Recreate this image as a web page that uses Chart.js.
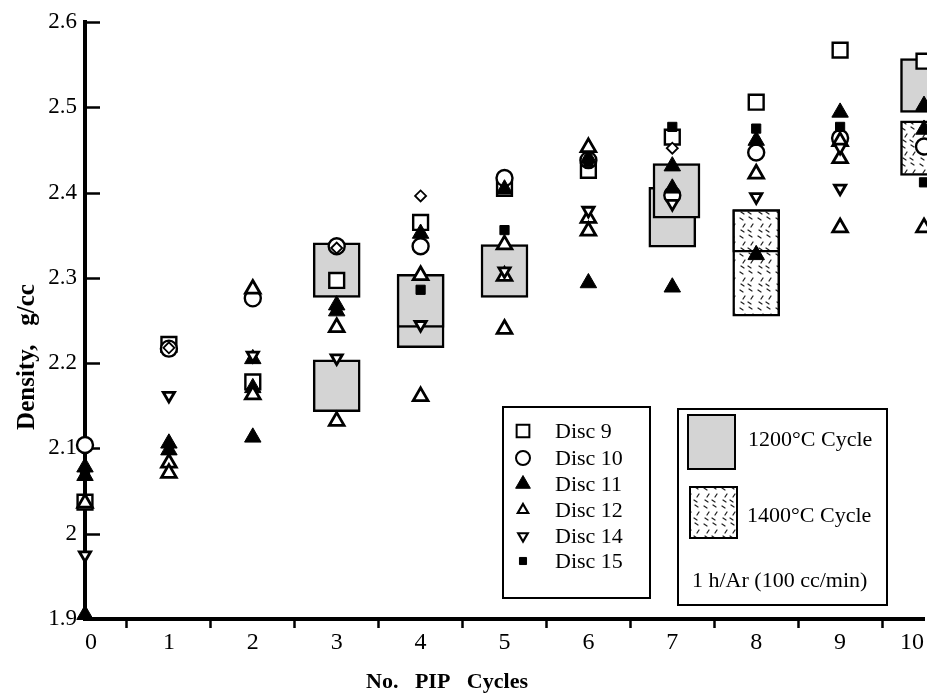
<!DOCTYPE html>
<html>
<head>
<meta charset="utf-8">
<script src="https://cdn.jsdelivr.net/npm/chart.js@4.4.0/dist/chart.umd.min.js"></script>
<style>
html,body{margin:0;padding:0;background:#fff;}
#wrap{position:relative;width:927px;height:697px;}
canvas{display:block;}
</style>
</head>
<body>
<div id="wrap"><canvas id="c" width="927" height="697"></canvas></div>
<script>
// ---------- data ----------
const xTickValues = [0,1,2,3,4,5,6,7,8,9,10];
const yTickValues = [1.9,2.0,2.1,2.2,2.3,2.4,2.5,2.6];
const yTickLabels = ['1.9','2','2.1','2.2','2.3','2.4','2.5','2.6'];

const disc9X  = [0,1,2,3,4,5,6,7,8,9,10];
const disc9Y  = [2.037,2.222,2.178,2.297,2.365,2.405,2.426,2.465,2.506,2.567,2.554];

const disc10X = [0,1,2,3,4,5,6,7,8,9,10];
const disc10Y = [2.104,2.217,2.276,2.337,2.337,2.417,2.438,2.397,2.447,2.464,2.454];

const disc11X = [0,0,0,1,1,2,2,2,3,3,4,5,6,6,7,7,7,8,8,9,10,10];
const disc11Y = [2.078,2.068,1.905,2.106,2.098,2.205,2.171,2.113,2.268,2.261,2.352,2.404,2.440,2.294,2.431,2.405,2.289,2.461,2.327,2.494,2.502,2.474];

const disc12X = [0,1,1,2,2,3,3,4,4,5,5,5,6,6,6,8,9,9,9,10];
const disc12Y = [2.036,2.083,2.071,2.287,2.163,2.242,2.132,2.303,2.161,2.339,2.302,2.240,2.453,2.370,2.355,2.422,2.460,2.440,2.359,2.359];

const disc14X = [0,1,2,3,4,5,6,7,8,9,9];
const disc14Y = [1.975,2.162,2.209,2.206,2.245,2.308,2.379,2.387,2.395,2.453,2.405];

const disc15X = [0,4,5,6,7,8,9,10];
const disc15Y = [2.072,2.286,2.356,2.436,2.477,2.475,2.477,2.412];

// small open diamonds (unlabelled marks in the original)
const diamondX = [1,3,4,7];
const diamondY = [2.218,2.335,2.396,2.452];

// 1200 °C cycle boxes (ranges)
const box1200X  = [3,3,4,4,5,7,7.05,10];
const box1200Lo = [2.277,2.143,2.218,2.242,2.277,2.336,2.370,2.494];
const box1200Hi = [2.341,2.204,2.304,2.304,2.339,2.406,2.434,2.557];

// 1400 °C cycle boxes (ranges)
const box1400X  = [8,8,10];
const box1400Lo = [2.255,2.330,2.420];
const box1400Hi = [2.380,2.380,2.484];

const legendDiscLabels = ['Disc 9','Disc 10','Disc 11','Disc 12','Disc 14','Disc 15'];
const legendBoxLabels = ['1200°C Cycle','1400°C Cycle'];
const legendNote = '1 h/Ar (100 cc/min)';
const xTitle = 'No.   PIP   Cycles';
const yTitle = 'Density,   g/cc';

// ---------- styles ----------
const FONT = '"Liberation Serif", "Times New Roman", Times, serif';
const markerStyles = [
  {pointStyle:'rect',     radius:10.5, rotation:0,   fill:'#fff', borderWidth:2.4},
  {pointStyle:'circle',   radius:8,    rotation:0,   fill:'#fff', borderWidth:2.4},
  {pointStyle:'triangle', radius:9.5,  rotation:0,   fill:'#000', borderWidth:1},
  {pointStyle:'triangle', radius:8.5,  rotation:0,   fill:'#fff', borderWidth:2.8},
  {pointStyle:'triangle', radius:6.5,  rotation:180, fill:'#fff', borderWidth:2.8},
  {pointStyle:'rect',     radius:6.5,  rotation:0,   fill:'#000', borderWidth:1}
];
const legendMarkerStyles = [
  {pointStyle:'rect',     radius:9,   rotation:0,   fill:'#fff', borderWidth:2},
  {pointStyle:'circle',   radius:7,   rotation:0,   fill:'#fff', borderWidth:2},
  {pointStyle:'triangle', radius:8.5, rotation:0,   fill:'#000', borderWidth:1},
  {pointStyle:'triangle', radius:6,   rotation:0,   fill:'#fff', borderWidth:2.2},
  {pointStyle:'triangle', radius:5.5, rotation:180, fill:'#fff', borderWidth:2.2},
  {pointStyle:'rect',     radius:5,   rotation:0,   fill:'#000', borderWidth:1}
];
const GRAY = '#d4d4d4';

function pts(xs, ys){ return xs.map((x,i)=>({x:x, y:ys[i]})); }
function ranges(xs, lo, hi){ return xs.map((x,i)=>({x:x, y:[lo[i], hi[i]]})); }

const canvas = document.getElementById('c');
const mainCtx = canvas.getContext('2d');
function makeHatch(){
  const c = document.createElement('canvas');
  c.width = 18; c.height = 18;
  const g = c.getContext('2d');
  g.fillStyle = '#fff'; g.fillRect(0,0,18,18);
  g.strokeStyle = '#222'; g.lineWidth = 1.3; g.lineCap = 'round';
  const segs = [[2,2,5,4],[11,1,14,3],[7,8,5,11],[15,8,13,11],[3,14,6,16],[10,14,13,16]];
  segs.forEach(s=>{ g.beginPath(); g.moveTo(s[0],s[1]); g.lineTo(s[2],s[3]); g.stroke(); });
  return mainCtx.createPattern(c,'repeat');
}
const HATCH = makeHatch();

const seriesX = [disc9X, disc10X, disc11X, disc12X, disc14X, disc15X];
const seriesY = [disc9Y, disc10Y, disc11Y, disc12Y, disc14Y, disc15Y];

const datasets = [];
datasets.push({
  type:'bar', label:legendBoxLabels[0], data: ranges(box1200X, box1200Lo, box1200Hi),
  backgroundColor: GRAY, borderColor:'#000', borderWidth:2.5, borderSkipped:false,
  barThickness:47, stack:'boxes', order:100, clip:false
});
datasets.push({
  type:'bar', label:legendBoxLabels[1], data: ranges(box1400X, box1400Lo, box1400Hi),
  backgroundColor: HATCH, borderColor:'#000', borderWidth:2.5, borderSkipped:false,
  barThickness:47, stack:'boxes', order:99, clip:false
});
legendDiscLabels.forEach((lab, i)=>{
  const s = markerStyles[i];
  datasets.push({
    type:'scatter', label: lab, data: pts(seriesX[i], seriesY[i]),
    pointStyle: s.pointStyle, pointRadius: s.radius, pointRotation: s.rotation,
    pointBackgroundColor: s.fill, pointBorderColor:'#000', pointBorderWidth: s.borderWidth,
    showLine:false, order: 9 - i, clip:false
  });
});
datasets.push({
  type:'scatter', label:'', data: pts(diamondX, diamondY),
  pointStyle:'rectRot', pointRadius:5.5, pointBackgroundColor:'#fff', pointBorderColor:'#000',
  pointBorderWidth:1.8, showLine:false, order:2, clip:false
});

const inwardTicks = {
  id:'inwardTicks',
  beforeDatasetsDraw(chart){
    const ctx = chart.ctx, ys = chart.scales.y, left = chart.chartArea.left;
    ctx.save();
    ctx.strokeStyle = '#000'; ctx.lineWidth = 2.5;
    ys.ticks.forEach(t=>{
      const py = Math.round(ys.getPixelForValue(t.value)) + 0.5;
      ctx.beginPath(); ctx.moveTo(left, py); ctx.lineTo(left + 15, py); ctx.stroke();
    });
    ctx.restore();
  }
};

const decorations = {
  id:'decorations',
  afterDraw(chart){
    const ctx = chart.ctx;
    ctx.save();
    ctx.fillStyle = '#000';
    // axis titles
    ctx.font = 'bold 22px ' + FONT;
    ctx.textAlign = 'center'; ctx.textBaseline = 'alphabetic';
    ctx.fillText(xTitle, 447, 688);
    ctx.save();
    ctx.font = 'bold 25px ' + FONT;
    ctx.translate(34, 357); ctx.rotate(-Math.PI/2);
    ctx.fillText(yTitle, 0, 0);
    ctx.restore();

    // left legend (disc markers)
    ctx.lineWidth = 2; ctx.strokeStyle = '#000';
    ctx.fillStyle = '#fff';
    ctx.fillRect(503, 407, 147, 191);
    ctx.strokeRect(503, 407, 147, 191);
    const rows = [431, 458, 484, 510, 536, 561];
    legendDiscLabels.forEach((lab, i)=>{
      const s = legendMarkerStyles[i];
      ctx.fillStyle = s.fill; ctx.strokeStyle = '#000'; ctx.lineWidth = s.borderWidth;
      Chart.helpers.drawPoint(ctx, {pointStyle:s.pointStyle, rotation:s.rotation, radius:s.radius, borderWidth:s.borderWidth}, 523, rows[i]);
      ctx.fillStyle = '#000';
      ctx.font = '22px ' + FONT; ctx.textAlign = 'left'; ctx.textBaseline = 'middle';
      ctx.fillText(lab, 555, rows[i] + 1);
    });

    // right legend (cycle boxes)
    ctx.lineWidth = 2; ctx.strokeStyle = '#000';
    ctx.fillStyle = '#fff';
    ctx.fillRect(678, 409, 209, 196);
    ctx.strokeRect(678, 409, 209, 196);
    ctx.fillStyle = GRAY; ctx.fillRect(688, 415, 47, 54); ctx.strokeRect(688, 415, 47, 54);
    ctx.fillStyle = HATCH; ctx.fillRect(690, 487, 47, 51); ctx.strokeRect(690, 487, 47, 51);
    ctx.fillStyle = '#000';
    ctx.font = '22px ' + FONT; ctx.textAlign = 'left'; ctx.textBaseline = 'middle';
    ctx.fillText(legendBoxLabels[0], 748, 440);
    ctx.fillText(legendBoxLabels[1], 747, 516);
    ctx.fillText(legendNote, 692, 581);
    ctx.restore();
  }
};

new Chart(canvas, {
  type:'scatter',
  data:{ datasets: datasets },
  options:{
    responsive:false, animation:false, events:[],
    layout:{ padding:{left:0, right:3, top:22, bottom:0}, autoPadding:false },
    plugins:{ legend:{display:false}, tooltip:{enabled:false}, title:{display:false} },
    scales:{
      x:{
        type:'linear', min:0, max:10, offset:false, stacked:true,
        afterBuildTicks:(s)=>{ s.ticks = xTickValues.map(v=>({value:v})); },
        afterFit:(s)=>{ s.height = 78; s.paddingLeft = 0; s.paddingRight = 0; },
        border:{display:true, color:'#000', width:4},
        grid:{display:true, drawOnChartArea:false, drawTicks:true, tickLength:9, tickWidth:2.5, tickColor:'#000', color:'#000'},
        ticks:{color:'#000', font:{family:FONT, size:24}, padding:0, autoSkip:false, maxRotation:0,
               align:'inner', callback:(v,i)=>String(xTickValues[i])}
      },
      y:{
        type:'linear', min:1.9, max:2.6, stacked:false,
        afterBuildTicks:(s)=>{ s.ticks = yTickValues.map(v=>({value:v})); },
        afterFit:(s)=>{ s.width = 85; s.paddingTop = 0; s.paddingBottom = 0; },
        border:{display:true, color:'#000', width:4},
        grid:{display:false, drawOnChartArea:false, drawTicks:false},
        ticks:{color:'#000', font:{family:FONT, size:23}, padding:8, autoSkip:false,
               callback:(v,i)=>yTickLabels[i]}
      }
    }
  },
  plugins:[inwardTicks, decorations]
});
</script>
</body>
</html>
